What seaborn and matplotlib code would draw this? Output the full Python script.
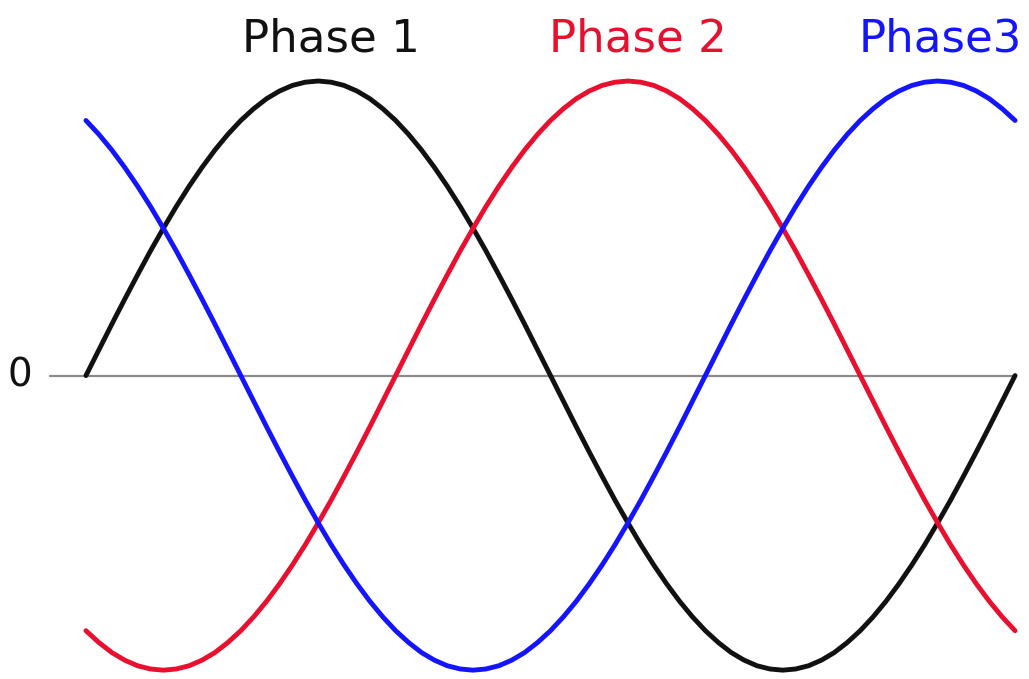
import pandas as pd
import seaborn as sns
import matplotlib.pyplot as plt

# angle in degrees, one full cycle in 5 degree steps
angle = list(range(0, 361, 5))

phase1 = [0, .087, .174, .259, .342, .423, .5, .574, .643, .707, .766, .819, .866, .906, .940, .966, .985, .996, 1,
          .996, .985, .966, .940, .906, .866, .819, .766, .707, .643, .574, .5, .423, .342, .259, .174, .087, 0,
          -.087, -.174, -.259, -.342, -.423, -.5, -.574, -.643, -.707, -.766, -.819, -.866, -.906, -.940, -.966, -.985, -.996, -1,
          -.996, -.985, -.966, -.940, -.906, -.866, -.819, -.766, -.707, -.643, -.574, -.5, -.423, -.342, -.259, -.174, -.087, 0]
phase2 = [-.866, -.906, -.940, -.966, -.985, -.996, -1, -.996, -.985, -.966, -.940, -.906, -.866, -.819, -.766, -.707,
          -.643, -.574, -.5, -.423, -.342, -.259, -.174, -.087,
          0, .087, .174, .259, .342, .423, .5, .574, .643, .707, .766, .819, .866, .906, .940, .966, .985, .996, 1,
          .996, .985, .966, .940, .906, .866, .819, .766, .707, .643, .574, .5, .423, .342, .259, .174, .087, 0,
          -.087, -.174, -.259, -.342, -.423, -.5, -.574, -.643, -.707, -.766, -.819, -.866]
phase3 = [.866, .819, .766, .707, .643, .574, .5, .423, .342, .259, .174, .087, 0,
          -.087, -.174, -.259, -.342, -.423, -.5, -.574, -.643, -.707, -.766, -.819, -.866, -.906, -.940, -.966, -.985, -.996, -1,
          -.996, -.985, -.966, -.940, -.906, -.866, -.819, -.766, -.707, -.643, -.574, -.5, -.423, -.342, -.259, -.174, -.087, 0,
          .087, .174, .259, .342, .423, .5, .574, .643, .707, .766, .819, .866, .906, .940, .966, .985, .996, 1,
          .996, .985, .966, .940, .906, .866]

labels = ["Phase 1", "Phase 2", "Phase3"]
label_x = [95, 214, 331]  # where each name sits above its curve (degrees)
colors = ["#111111", "#e8102e", "#1414ff"]

n = len(angle)
df = pd.DataFrame({"angle": angle * 3,
                   "value": phase1 + phase2 + phase3,
                   "phase": [labels[0]] * n + [labels[1]] * n + [labels[2]] * n})

sns.set_style("white")
plt.rcParams['font.family'] = ['DejaVu Sans']

fig = plt.figure(figsize=(10.29, 6.79), dpi=100)
ax = fig.add_axes([0, 0, 1, 1])

# zero reference line
ax.plot([-14, 360], [0, 0], color="#8a8a8a", lw=1.6, zorder=1)

sns.lineplot(data=df, x="angle", y="value", hue="phase", palette=colors,
             linewidth=3.5, legend=False, ax=ax, zorder=2)

for name, x, c in zip(labels, label_x, colors):
    ax.text(x, 1.10, name, color=c, fontsize=32.5, ha="center", va="baseline")

ax.text(-25.5, 0, "0", fontsize=28, ha="center", va="center", color="#111111")

ax.set_xlim(-33.3, 365.4)
ax.set_ylim(-1.03, 1.275)
ax.set_axis_off()

plt.savefig("out.png", dpi=100)
